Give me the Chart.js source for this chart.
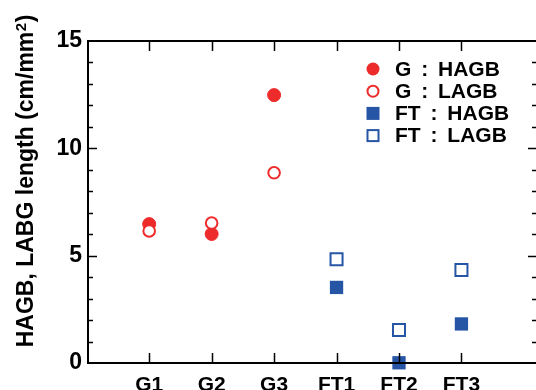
<!DOCTYPE html>
<html>
<head>
<meta charset="utf-8">
<script src="https://cdn.jsdelivr.net/npm/chart.js@4/dist/chart.umd.min.js"></script>
<style>
  html, body { margin: 0; padding: 0; background: #ffffff; overflow: hidden; }
  #wrap { width: 548px; height: 390px; overflow: hidden; }
</style>
</head>
<body>
<div id="wrap"><canvas id="c" width="548" height="390"></canvas></div>
<script>
// ---- data ----
const categories = ['G1', 'G2', 'G3', 'FT1', 'FT2', 'FT3'];
const gCategories = ['G1', 'G2', 'G3'];
const ftCategories = ['FT1', 'FT2', 'FT3'];
const gHAGB = [6.47, 6.01, 12.48];
const gLAGB = [6.15, 6.52, 8.86];
const ftHAGB = [3.52, 0.01, 1.82];
const ftLAGB = [4.83, 1.54, 4.33];
const yTickValues = [0, 5, 10, 15];
const seriesLabels = ['G : HAGB', 'G : LAGB', 'FT : HAGB', 'FT : LAGB'];
const yTitle = 'HAGB, LABG length (cm/mm';
const yTitleSup = '2';
const yTitleEnd = ')';

const RED = '#ee2b2b';
const BLUE = '#2755a5';

function toPoints(cats, vals) {
  return cats.map((c, i) => ({ x: categories.indexOf(c) + 1, y: vals[i] }));
}

const FONT = '"Liberation Sans", Arial, Helvetica, sans-serif';

const framePlugin = {
  id: 'frame',
  afterDraw(chart) {
    const ctx = chart.ctx;
    const a = chart.chartArea;
    const xs = chart.scales.x, ys = chart.scales.y;
    ctx.save();
    ctx.strokeStyle = '#000';
    // ticks
    ctx.lineWidth = 1.5;
    ctx.beginPath();
    for (let v = 1; v < 15; v++) {
      const y = Math.round(ys.getPixelForValue(v)) + 0.5;
      const len = (v % 5 === 0) ? 9 : 5;
      ctx.moveTo(a.left, y); ctx.lineTo(a.left + len, y);
      ctx.moveTo(a.right, y); ctx.lineTo(a.right - len, y);
    }
    categories.forEach((c, i) => {
      const x = Math.round(xs.getPixelForValue(i + 1)) + 0.5;
      ctx.moveTo(x, a.top); ctx.lineTo(x, a.top + 10);
      ctx.moveTo(x, a.bottom); ctx.lineTo(x, a.bottom - 10);
    });
    ctx.stroke();
    // frame
    ctx.lineWidth = 2;
    ctx.beginPath();
    ctx.moveTo(a.left, a.top); ctx.lineTo(a.right, a.top);
    ctx.lineTo(a.right, a.bottom); ctx.lineTo(a.left, a.bottom);
    ctx.closePath();
    ctx.stroke();

    // y-axis title (rotated), with superscript
    ctx.fillStyle = '#000';
    ctx.translate(33, 181);
    ctx.rotate(-Math.PI / 2);
    ctx.textBaseline = 'alphabetic';
    ctx.textAlign = 'left';
    const mainFont = 'bold 23px ' + FONT;
    const supFont = 'bold 15px ' + FONT;
    ctx.font = mainFont;
    const w1 = ctx.measureText(yTitle).width;
    const w3 = ctx.measureText(yTitleEnd).width;
    ctx.font = supFont;
    const w2 = ctx.measureText(yTitleSup).width + 1;
    const total = w1 + w2 + w3;
    let x = -total / 2;
    ctx.font = mainFont;
    ctx.fillText(yTitle, x, 0);
    x += w1;
    ctx.font = supFont;
    ctx.fillText(yTitleSup, x + 0.5, -7);
    x += w2;
    ctx.font = mainFont;
    ctx.fillText(yTitleEnd, x, 0);
    ctx.restore();

    // legend inside plot
    ctx.save();
    const rows = [69, 91.2, 113.4, 135.6];
    const mx = 373, tx = 395;
    ctx.font = 'bold 21px ' + FONT;
    ctx.wordSpacing = '4px';
    ctx.textBaseline = 'middle';
    ctx.textAlign = 'left';
    ctx.fillStyle = '#000';
    chart.data.datasets.forEach((ds, i) => {
      const y = rows[i];
      ctx.save();
      ctx.fillStyle = ds.pointBackgroundColor;
      ctx.strokeStyle = ds.pointBorderColor;
      ctx.lineWidth = 2;
      if (i === 0) { ctx.beginPath(); ctx.arc(mx, y, 6.5, 0, Math.PI * 2); ctx.fill(); }
      if (i === 1) { ctx.beginPath(); ctx.arc(mx, y, 5.5, 0, Math.PI * 2); ctx.fill(); ctx.stroke(); }
      if (i === 2) { ctx.fillRect(mx - 6.5, y - 6.5, 13, 13); }
      if (i === 3) { ctx.fillRect(mx - 5.5, y - 5.5, 11, 11); ctx.strokeRect(mx - 5.5, y - 5.5, 11, 11); }
      ctx.restore();
      ctx.fillText(ds.label, tx, y + 1);
    });
    ctx.restore();
  }
};

new Chart(document.getElementById('c'), {
  type: 'scatter',
  data: {
    datasets: [
      { label: seriesLabels[0], data: toPoints(gCategories, gHAGB), order: 2, pointStyle: 'circle', pointRadius: 6.5, pointBorderWidth: 1,
        pointBackgroundColor: RED, pointBorderColor: RED },
      { label: seriesLabels[1], data: toPoints(gCategories, gLAGB), order: 1, pointStyle: 'circle', pointRadius: 5.8, pointBorderWidth: 2,
        pointBackgroundColor: '#ffffff', pointBorderColor: RED },
      { label: seriesLabels[2], data: toPoints(ftCategories, ftHAGB), order: 2, pointStyle: 'rect', pointRadius: 9.4, pointBorderWidth: 0,
        pointBackgroundColor: BLUE, pointBorderColor: BLUE },
      { label: seriesLabels[3], data: toPoints(ftCategories, ftLAGB), order: 1, pointStyle: 'rect', pointRadius: 8.5, pointBorderWidth: 2,
        pointBackgroundColor: '#ffffff', pointBorderColor: BLUE }
    ]
  },
  options: {
    responsive: false,
    animation: false,
    events: [],
    clip: false,
    layout: { padding: { top: 41, right: 11, left: 0, bottom: 0 } },
    plugins: { legend: { display: false }, tooltip: { enabled: false } },
    scales: {
      x: {
        type: 'linear', min: 0.02, max: 7.21,
        afterFit(s) { s.height = 27; },
        afterBuildTicks(s) { s.ticks = categories.map((c, i) => ({ value: i + 1 })); },
        grid: { display: false, drawTicks: false },
        border: { display: false },
        ticks: {
          padding: 10, color: '#000', maxRotation: 0, autoSkip: false,
          font: { family: FONT, size: 21, weight: 'bold' },
          callback: (v) => categories[v - 1]
        }
      },
      y: {
        type: 'linear', min: 0, max: 15,
        afterFit(s) { s.width = 88; },
        afterBuildTicks(s) { s.ticks = yTickValues.map(v => ({ value: v })); },
        grid: { display: false, drawTicks: false },
        border: { display: false },
        ticks: {
          padding: 6, color: '#000',
          font: { family: FONT, size: 23, weight: 'bold' }
        }
      }
    }
  },
  plugins: [framePlugin]
});
</script>
</body>
</html>
